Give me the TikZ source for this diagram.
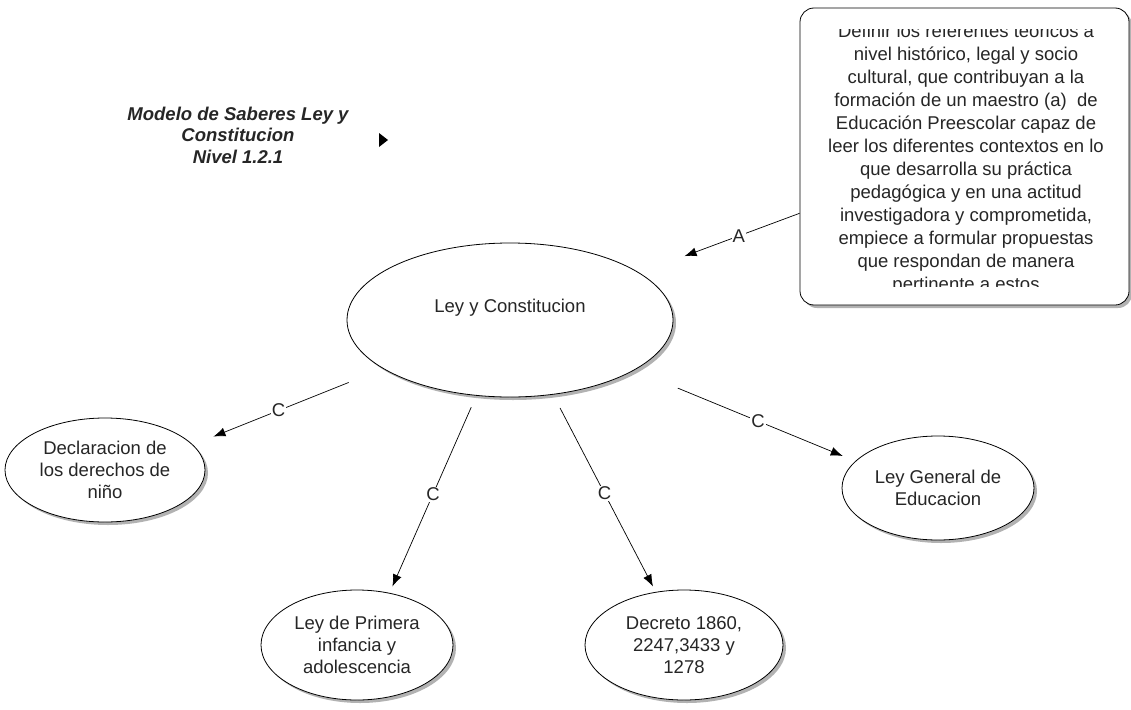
\documentclass[tikz,border=0pt]{standalone}
\usepackage{fontspec}
\setmainfont{Liberation Sans}
\usetikzlibrary{shapes.geometric,arrows.meta,shadows}

\begin{document}
\begin{tikzpicture}[x=1pt,y=-1pt,
    font=\fontsize{18.5}{22}\selectfont, text=black!85,
    shade/.style={drop shadow={shadow xshift=3pt,shadow yshift=-3pt,fill=black!60,opacity=.5}},
    concept/.style={ellipse,draw,line width=0.8pt,fill=white,inner sep=0pt,align=center,shade},
    link/.style={line width=0.7pt,-{Latex[length=12pt,width=9pt]}},
    tag/.style={fill=white,inner sep=1pt}]
            \useasboundingbox (0,0) rectangle (1131,709);

            \node[align=center,font=\bfseries\itshape\fontsize{18.5}{21.5}\selectfont] (title) at (238,135)
                {Modelo de Saberes Ley y\\Constitucion\\Nivel 1.2.1};
            \fill[black] (379,133) -- (388,140) -- (379,147) -- cycle;

            \node[draw,rounded corners=14pt,line width=0.8pt,fill=white,inner sep=0pt,
                minimum width=329,minimum height=297,shade] (goal) at (964.5,156.5) {};
            \begin{scope}
                \clip (800,30) rectangle (1129,286);
                \node[align=center,font=\fontsize{18.5}{23}\selectfont] (goaltext) at (966,159)
                    {Definir los referentes teóricos a\\nivel histórico, legal y socio\\cultural, que contribuyan a la\\
                     formación de un maestro (a) \ de\\Educación Preescolar capaz de\\leer los diferentes contextos en lo\\
                     que desarrolla su práctica\\pedagógica y en una actitud\\investigadora y comprometida,\\
                     empiece a formular propuestas\\que respondan de manera\\pertinente a estos};
            \end{scope}

            \node[concept,minimum width=326,minimum height=154,
                label={[name=maintext,yshift=12pt]center:Ley y Constitucion}] (main) at (510,320) {};
            \node[concept,minimum width=200,minimum height=104] (decl) at (105,470) {Declaracion de\\los derechos de\\niño};
            \node[concept,minimum width=192,minimum height=110] (primera) at (357,645) {Ley de Primera\\infancia y\\adolescencia};
            \node[concept,minimum width=198,minimum height=110] (decreto) at (684,645) {Decreto 1860,\\2247,3433 y\\1278};
            \node[concept,minimum width=192,minimum height=104] (leygen) at (938,488) {Ley General de\\Educacion};

            \draw[link,shorten >=48pt] (goal.199.9) -- (main.20.7) node[tag,pos=0.38] (a1) {A};
            \draw[link,shorten <=37pt,shorten >=22pt] (main.201) -- (decl.16.5) node[tag,pos=0.55] (c1) {C};
            \draw[link,shorten <=12.6pt,shorten >=7pt] (main.246.4) -- (primera.58.9) node[tag,midway] (c2) {C};
            \draw[link,shorten <=15pt,shorten >=6pt] (main.300.9) -- (decreto.118.1) node[tag,midway] (c3) {C};
            \draw[link,shorten <=47pt,shorten >=13.5pt] (main.338.8) -- (leygen.162.6) node[tag,pos=0.56] (c4) {C};
\end{tikzpicture}
\end{document}
